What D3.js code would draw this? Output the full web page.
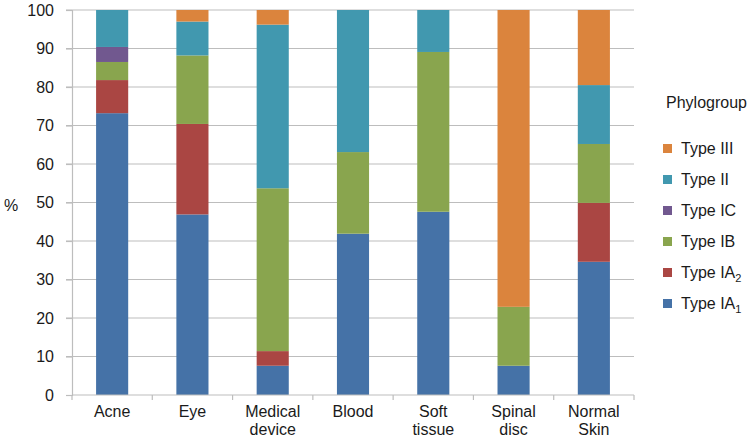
<!DOCTYPE html>
<html>
<head>
<meta charset="utf-8">
<script src="https://cdn.jsdelivr.net/npm/d3@7"></script>
<style>
  body { margin: 0; background: #fff; }
  text { font-family: "Liberation Sans", Arial, sans-serif; fill: #1a1a1a; }
</style>
</head>
<body>
<div id="chart"></div>
<script>
// categories (two-line labels)
var categories = ["Acne", "Eye", "Medical device", "Blood", "Soft tissue", "Spinal disc", "Normal Skin"];
var catLines = [["Acne"], ["Eye"], ["Medical", "device"], ["Blood"], ["Soft", "tissue"], ["Spinal", "disc"], ["Normal", "Skin"]];

// series, bottom to top
var seriesKeys = ["IA1", "IA2", "IB", "IC", "II", "III"];
var typeIA1 = [73.2, 46.9, 7.6, 41.9, 47.6, 7.6, 34.6];
var typeIA2 = [8.6, 23.5, 3.8, 0, 0, 0, 15.3];
var typeIB  = [4.7, 17.8, 42.3, 21.2, 41.5, 15.3, 15.3];
var typeIC  = [3.9, 0, 0, 0, 0, 0, 0];
var typeII  = [9.6, 8.8, 42.5, 36.9, 10.9, 0, 15.3];
var typeIII = [0, 3.0, 3.8, 0, 0, 77.1, 19.5];
var yTicks = [0, 10, 20, 30, 40, 50, 60, 70, 80, 90, 100];

var colors = {IA1: "#4572A7", IA2: "#AA4643", IB: "#89A54E", IC: "#71588F", II: "#4198AF", III: "#DB843D"};

var table = categories.map(function(c, i) {
    return {cat: c, IA1: typeIA1[i], IA2: typeIA2[i], IB: typeIB[i], IC: typeIC[i], II: typeII[i], III: typeIII[i]};
});

var W = 755, H = 442;
var margin = {top: 10, left: 72, right: 121, bottom: 47};
var width = W - margin.left - margin.right;
var height = H - margin.top - margin.bottom;
var fs = "16px";

var svg = d3.select("#chart").append("svg").attr("width", W).attr("height", H);
var g = svg.append("g").attr("transform", "translate(" + margin.left + "," + margin.top + ")");

var x = d3.scaleBand().domain(categories).range([0, width]).paddingInner(0.6).paddingOuter(0.3);
var y = d3.scaleLinear().domain([0, 100]).range([height, 0]);

// gridlines
g.selectAll(".grid").data(yTicks.slice(1)).enter().append("line")
    .attr("x1", -6).attr("x2", width)
    .attr("y1", function(d) { return y(d); }).attr("y2", function(d) { return y(d); })
    .attr("stroke", "#bdbdbd").attr("stroke-width", 1.2);

// bars
var stack = d3.stack().keys(seriesKeys)(table);
g.selectAll(".layer").data(stack).enter().append("g")
    .attr("fill", function(d) { return colors[d.key]; })
    .selectAll("rect").data(function(d) { return d; }).enter().append("rect")
    .attr("x", function(d) { return x(d.data.cat); })
    .attr("width", x.bandwidth())
    .attr("y", function(d) { return y(d[1]); })
    .attr("height", function(d) { return y(d[0]) - y(d[1]); });

// y axis
var yAxis = g.append("g").call(d3.axisLeft(y).tickValues(yTicks).tickSize(6).tickPadding(12));
yAxis.select(".domain").attr("stroke", "#bdbdbd").attr("stroke-width", 1.2);
yAxis.selectAll(".tick line").attr("stroke", "#bdbdbd").attr("stroke-width", 1.2);
yAxis.selectAll("text").style("font-size", fs).attr("fill", "#1a1a1a").attr("font-family", "Liberation Sans, Arial, sans-serif");

// x axis
g.append("line").attr("x1", 0).attr("x2", width).attr("y1", height).attr("y2", height)
    .attr("stroke", "#bdbdbd").attr("stroke-width", 1.2);
g.selectAll(".xtick").data(d3.range(categories.length + 1)).enter().append("line")
    .attr("x1", function(i) { return i * width / categories.length; })
    .attr("x2", function(i) { return i * width / categories.length; })
    .attr("y1", height).attr("y2", height + 5)
    .attr("stroke", "#bdbdbd").attr("stroke-width", 1.2);

g.selectAll(".xlab").data(categories).enter().append("text")
    .attr("x", function(d) { return x(d) + x.bandwidth() / 2; })
    .attr("y", height + 22)
    .attr("text-anchor", "middle")
    .style("font-size", fs)
    .each(function(d, i) {
        var t = d3.select(this);
        catLines[i].forEach(function(line, j) {
            t.append("tspan").attr("x", x(d) + x.bandwidth() / 2).attr("dy", j === 0 ? 0 : 18).text(line);
        });
    });

// y title
svg.append("text").attr("x", 4).attr("y", 211).style("font-size", fs).text("%");

// legend
var legend = svg.append("g").attr("transform", "translate(665,0)");
legend.append("text").attr("x", 1).attr("y", 108).style("font-size", fs).text("Phylogroup");
var legendItems = [
    {key: "III", label: "Type III"},
    {key: "II", label: "Type II"},
    {key: "IC", label: "Type IC"},
    {key: "IB", label: "Type IB"},
    {key: "IA2", label: "Type IA", sub: "2"},
    {key: "IA1", label: "Type IA", sub: "1"}
];
var li = legend.selectAll(".li").data(legendItems).enter().append("g")
    .attr("transform", function(d, i) { return "translate(0," + (148 + i * 31) + ")"; });
li.append("rect").attr("x", -2).attr("y", -4).attr("width", 9).attr("height", 9)
    .attr("fill", function(d) { return colors[d.key]; });
li.append("text").attr("x", 16).attr("y", 6).style("font-size", fs)
    .each(function(d) {
        var t = d3.select(this);
        t.append("tspan").text(d.label);
        if (d.sub) t.append("tspan").attr("dy", 4).style("font-size", "11px").text(d.sub);
    });
</script>
</body>
</html>
